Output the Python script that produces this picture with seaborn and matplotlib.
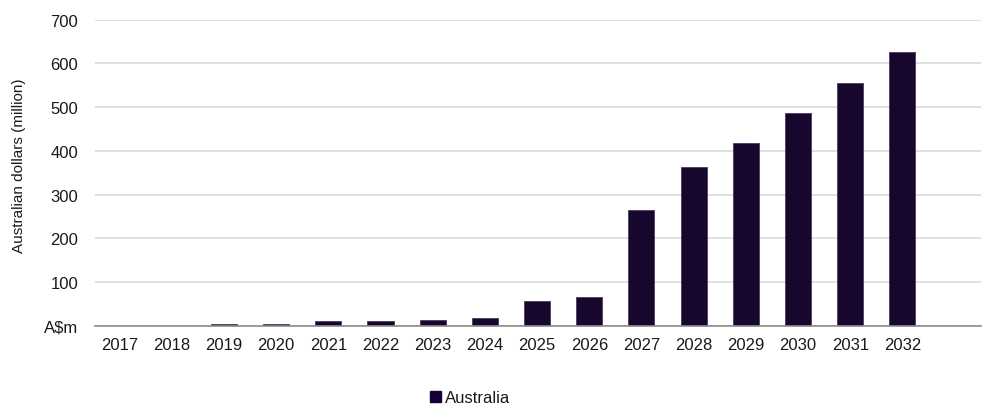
import matplotlib
matplotlib.use("Agg")
import matplotlib.pyplot as plt
import seaborn as sns
import pandas as pd

years = ["2017", "2018", "2019", "2020", "2021", "2022", "2023", "2024",
         "2025", "2026", "2027", "2028", "2029", "2030", "2031", "2032"]
australia = [0, 0, 5, 5, 10, 10, 14, 18, 57, 66, 264, 362, 418, 487, 555, 625]
y_ticks = [0, 100, 200, 300, 400, 500, 600, 700]
y_tick_labels = ["A$m", "100", "200", "300", "400", "500", "600", "700"]
series_name = "Australia"

bar_color = "#160035"
text_color = "#1a1a1a"

sns.set_theme(style="white")
plt.rcParams["font.family"] = ["Liberation Sans", "DejaVu Sans"]

df = pd.DataFrame({"year": years, "value": australia, "series": series_name})

fig = plt.figure(figsize=(9.83, 4.06), dpi=100)
ax = fig.add_axes([95 / 983, 79.3 / 406, (980.7 - 95) / 983, (326.7 - 20.7) / 406])

sns.barplot(data=df, x="year", y="value", hue="series", palette=[bar_color],
            width=0.5, edgecolor="#4a3a63", linewidth=0.6, ax=ax, legend=False)

ax.set_xlim(-0.47, 16.5)
ax.set_ylim(0, 700)
ax.set_yticks(y_ticks)
ax.set_yticklabels(y_tick_labels)
ax.yaxis.grid(True, color="#d9d9d9", linewidth=1.2)
ax.set_axisbelow(True)
for side in ["top", "right", "left"]:
    ax.spines[side].set_visible(False)
ax.spines["bottom"].set_color("#8c8c8c")
ax.spines["bottom"].set_linewidth(1.2)

ax.tick_params(axis="both", length=0, labelsize=12, colors=text_color)
ax.tick_params(axis="y", pad=12)
ax.tick_params(axis="x", pad=8)
ax.set_xlabel("")
ax.set_ylabel("Australian dollars (million)", fontsize=11, color=text_color)
ax.yaxis.set_label_coords(-0.078, 0.525)

handle = plt.Rectangle((0, 0), 1, 1, color=bar_color)
fig.legend([handle], [series_name], loc="center", bbox_to_anchor=(0.478, 0.018),
           frameon=False, fontsize=12, handlelength=0.7, handleheight=0.7,
           handletextpad=0.2, labelcolor=text_color)

fig.savefig("out.png", dpi=100)
